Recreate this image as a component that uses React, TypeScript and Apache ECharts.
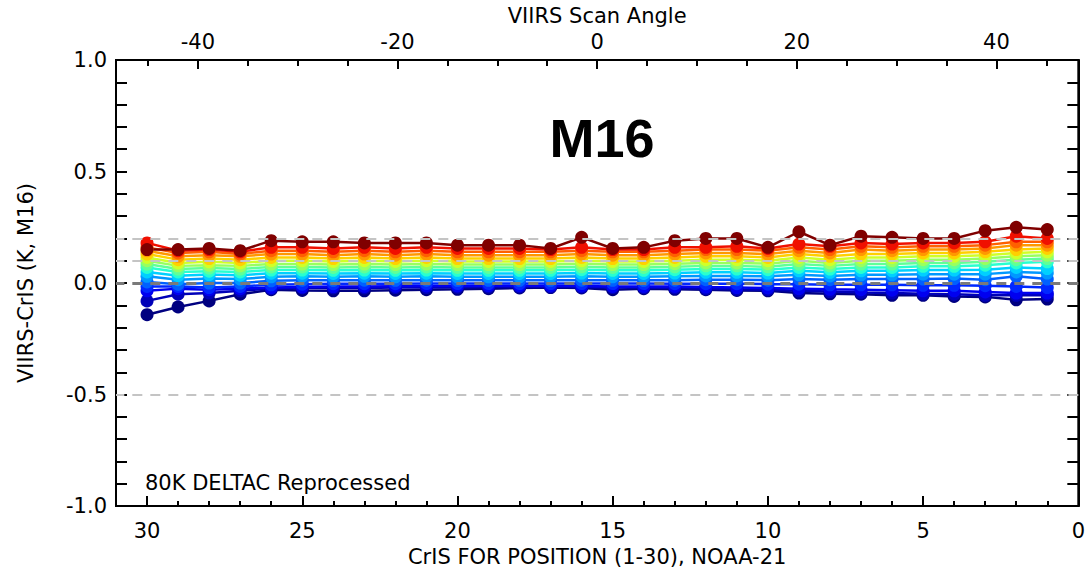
import React, { useEffect, useRef } from "react";
import * as echarts from "echarts";

// CrIS FOR positions (1-30)
const forPositions = [1,2,3,4,5,6,7,8,9,10,11,12,13,14,15,16,17,18,19,20,21,22,23,24,25,26,27,28,29,30];

// VIIRS-CrIS (K) per scene-temperature bin, coldest (dark blue) to warmest (dark red)
const bin01 = [-0.072,-0.075,-0.062,-0.06,-0.055,-0.055,-0.05,-0.048,-0.045,-0.035,-0.033,-0.03,-0.028,-0.025,-0.03,-0.022,-0.02,-0.022,-0.025,-0.028,-0.03,-0.032,-0.035,-0.035,-0.033,-0.03,-0.05,-0.08,-0.107,-0.142];
const bin02 = [-0.055,-0.055,-0.055,-0.05,-0.048,-0.045,-0.042,-0.038,-0.035,-0.03,-0.028,-0.025,-0.022,-0.02,-0.02,-0.018,-0.017,-0.017,-0.018,-0.019,-0.02,-0.02,-0.022,-0.022,-0.022,-0.025,-0.035,-0.045,-0.05,-0.08];
const bin03 = [-0.045,-0.045,-0.04,-0.035,-0.035,-0.032,-0.03,-0.028,-0.025,-0.022,-0.02,-0.018,-0.015,-0.015,-0.015,-0.013,-0.012,-0.012,-0.012,-0.013,-0.013,-0.014,-0.015,-0.016,-0.018,-0.02,-0.025,-0.03,-0.025,-0.035];
const bin04 = [-0.02,-0.015,-0.012,-0.01,-0.01,-0.008,-0.008,-0.008,-0.005,-0.005,-0.003,-0.003,-0.003,-0.002,-0.002,-0.002,-0.002,-0.002,-0.002,-0.002,-0.002,-0.003,-0.003,-0.003,-0.005,-0.008,-0.015,-0.02,-0.015,-0.015];
const bin05 = [0.018,0.03,0.015,0.02,0.018,0.018,0.018,0.015,0.018,0.013,0.015,0.015,0.013,0.012,0.012,0.013,0.012,0.012,0.012,0.012,0.013,0.012,0.013,0.012,0.013,0.01,0.0,0.0,-0.005,0.005];
const bin06 = [0.045,0.05,0.04,0.04,0.04,0.037,0.037,0.032,0.037,0.03,0.032,0.032,0.03,0.028,0.028,0.03,0.028,0.028,0.028,0.028,0.03,0.028,0.03,0.028,0.03,0.028,0.018,0.02,0.015,0.03];
const bin07 = [0.065,0.07,0.06,0.058,0.058,0.055,0.055,0.048,0.055,0.045,0.048,0.048,0.045,0.043,0.043,0.045,0.043,0.043,0.043,0.043,0.044,0.043,0.044,0.043,0.044,0.044,0.035,0.038,0.033,0.05];
const bin08 = [0.095,0.09,0.08,0.075,0.075,0.07,0.07,0.063,0.07,0.06,0.063,0.063,0.06,0.057,0.057,0.06,0.057,0.057,0.057,0.057,0.058,0.057,0.058,0.057,0.058,0.058,0.05,0.053,0.05,0.07];
const bin09 = [0.11,0.105,0.095,0.09,0.09,0.085,0.085,0.077,0.085,0.073,0.077,0.077,0.073,0.07,0.07,0.073,0.07,0.07,0.07,0.07,0.072,0.07,0.072,0.07,0.072,0.072,0.063,0.067,0.063,0.085];
const bin10 = [0.125,0.12,0.11,0.105,0.105,0.1,0.1,0.09,0.1,0.087,0.09,0.09,0.087,0.083,0.083,0.087,0.083,0.083,0.083,0.083,0.085,0.083,0.085,0.083,0.085,0.085,0.077,0.08,0.077,0.1];
const bin11 = [0.14,0.135,0.125,0.12,0.12,0.115,0.115,0.105,0.115,0.1,0.105,0.105,0.1,0.097,0.097,0.1,0.097,0.097,0.097,0.097,0.1,0.097,0.1,0.097,0.1,0.1,0.09,0.095,0.09,0.115];
const bin12 = [0.155,0.15,0.14,0.135,0.135,0.13,0.13,0.12,0.13,0.115,0.12,0.12,0.115,0.11,0.11,0.115,0.11,0.11,0.11,0.11,0.115,0.11,0.115,0.11,0.115,0.115,0.105,0.11,0.105,0.13];
const bin13 = [0.17,0.17,0.155,0.15,0.15,0.145,0.15,0.135,0.145,0.13,0.135,0.135,0.13,0.125,0.125,0.13,0.125,0.125,0.125,0.125,0.13,0.125,0.13,0.125,0.13,0.13,0.12,0.125,0.12,0.145];
const bin14 = [0.185,0.185,0.17,0.165,0.165,0.16,0.165,0.15,0.16,0.145,0.15,0.15,0.145,0.14,0.14,0.145,0.14,0.14,0.14,0.14,0.145,0.14,0.145,0.14,0.145,0.145,0.13,0.14,0.135,0.16];
const bin15 = [0.2,0.21,0.185,0.18,0.18,0.175,0.18,0.165,0.175,0.155,0.165,0.16,0.16,0.15,0.15,0.16,0.15,0.155,0.155,0.155,0.16,0.155,0.16,0.155,0.16,0.16,0.14,0.15,0.145,0.18];
const bin16 = [0.24,0.25,0.235,0.2,0.2,0.205,0.21,0.17,0.23,0.16,0.2,0.2,0.19,0.16,0.155,0.205,0.155,0.17,0.17,0.17,0.18,0.18,0.18,0.185,0.185,0.19,0.145,0.155,0.15,0.15];

const bins = [bin01, bin02, bin03, bin04, bin05, bin06, bin07, bin08, bin09, bin10, bin11, bin12, bin13, bin14, bin15, bin16];
const binColors = ["#000080","#0000b8","#0000f0","#0028ff","#0060ff","#0098ff","#00d0ff","#28ffd0","#60ff98","#98ff60","#d0ff28","#ffd000","#ff9800","#ff6000","#f01000","#800000"];

// Reference lines
const lightRefLines = [0.2, 0.1, -0.5];
const zeroRefLine = [0.0];

const yTickLabels = ["-1.0", "-0.5", "0.0", "0.5", "1.0"];

const FONT = "DejaVu Sans";

export default function App() {
  const ref = useRef<HTMLDivElement>(null);
  useEffect(() => {
    if (!ref.current) return;
    const chart = echarts.init(ref.current, undefined, { renderer: "svg" });
    const series: any[] = bins.map((vals, k) => ({
      type: "line",
      name: "bin" + (k + 1),
      xAxisIndex: 0,
      yAxisIndex: 0,
      data: vals.map((v, i) => [forPositions[i], v]),
      symbol: "circle",
      symbolSize: 13,
      showSymbol: true,
      lineStyle: { color: binColors[k], width: 2.5 },
      itemStyle: { color: binColors[k] },
      z: 2,
    }));
    series.push({
      type: "line",
      name: "refs",
      data: [],
      z: 5,
      markLine: {
        silent: true,
        symbol: ["none", "none"],
        label: { show: false },
        animation: false,
        data: [
          ...lightRefLines.map((y) => ({ yAxis: y, lineStyle: { color: "#c4c4c4", type: [10, 8], width: 2 } })),
          ...zeroRefLine.map((y) => ({ yAxis: y, lineStyle: { color: "#7a7a7a", type: [10, 8], width: 3 } })),
        ],
      },
    });
    const lineStyle = { color: "#000", width: 2 };
    chart.setOption({
      animation: false,
      backgroundColor: "#ffffff",
      grid: { left: 116, right: 8, top: 60, bottom: 61, show: true, borderColor: "#000", borderWidth: 2 },
      title: {
        text: "M16",
        left: 597,
        top: 106,
        textAlign: "center",
        textStyle: { fontFamily: "Liberation Sans", fontWeight: "bold", fontSize: 54, color: "#000" },
      },
      graphic: [
        {
          type: "text",
          left: 145,
          top: 472,
          style: { text: "80K DELTAC Reprocessed", font: `21px "${FONT}"`, fill: "#000" },
        },
      ],
      xAxis: [
        {
          type: "value",
          position: "bottom",
          min: 0,
          max: 31,
          interval: 5,
          inverse: true,
          name: "CrIS FOR POSITION (1-30), NOAA-21",
          nameLocation: "middle",
          nameGap: 36,
          nameTextStyle: { fontFamily: FONT, fontSize: 21, color: "#000" },
          axisLine: { show: true, onZero: false, lineStyle },
          axisTick: { show: true, inside: true, length: 10, lineStyle },
          minorTick: { show: true, splitNumber: 5, length: 5, lineStyle },
          axisLabel: {
            show: true,
            margin: 14,
            fontFamily: FONT,
            fontSize: 21,
            color: "#000",
            formatter: (v: number) => (Math.round(v) % 5 === 0 ? String(v) : ""),
          },
          splitLine: { show: false },
        },
        {
          type: "value",
          position: "top",
          min: -48.2,
          max: 48.2,
          splitNumber: 5,
          name: "VIIRS Scan Angle",
          nameLocation: "middle",
          nameGap: 30,
          nameTextStyle: { fontFamily: FONT, fontSize: 21, color: "#000" },
          axisLine: { show: true, onZero: false, lineStyle },
          axisTick: { show: true, inside: true, length: 9, lineStyle },
          minorTick: { show: true, splitNumber: 4, length: 6, lineStyle },
          axisLabel: {
            show: true,
            margin: 8,
            fontFamily: FONT,
            fontSize: 21,
            color: "#000",
            showMinLabel: false,
            showMaxLabel: false,
            formatter: (v: number) => (Math.abs(v % 20) < 1e-6 ? String(v) : ""),
          },
          splitLine: { show: false },
        },
      ],
      yAxis: [
        {
          type: "value",
          position: "left",
          min: -1,
          max: 1,
          interval: 0.1,
          name: "VIIRS-CrIS (K, M16)",
          nameLocation: "middle",
          nameGap: 80,
          nameTextStyle: { fontFamily: FONT, fontSize: 21, color: "#000" },
          axisLine: { show: true, onZero: false, lineStyle },
          axisTick: { show: true, inside: true, length: 11, lineStyle },
          axisLabel: {
            show: true,
            margin: 9,
            fontFamily: FONT,
            fontSize: 21,
            color: "#000",
            formatter: (v: number) => {
              const k = Math.round(v * 10);
              if (k % 5 !== 0) return "";
              return yTickLabels[(k + 10) / 5];
            },
          },
          splitLine: { show: false },
        },
        {
          type: "value",
          position: "right",
          min: -1,
          max: 1,
          interval: 0.1,
          axisLine: { show: true, onZero: false, lineStyle },
          axisTick: { show: true, inside: true, length: 11, lineStyle },
          axisLabel: { show: false },
          splitLine: { show: false },
        },
      ],
      series,
    });
    return () => chart.dispose();
  }, []);
  return (
    <div
      ref={ref}
      style={{ position: "fixed", left: 0, top: 0, width: 1088, height: 572, background: "#fff" }}
    />
  );
}
